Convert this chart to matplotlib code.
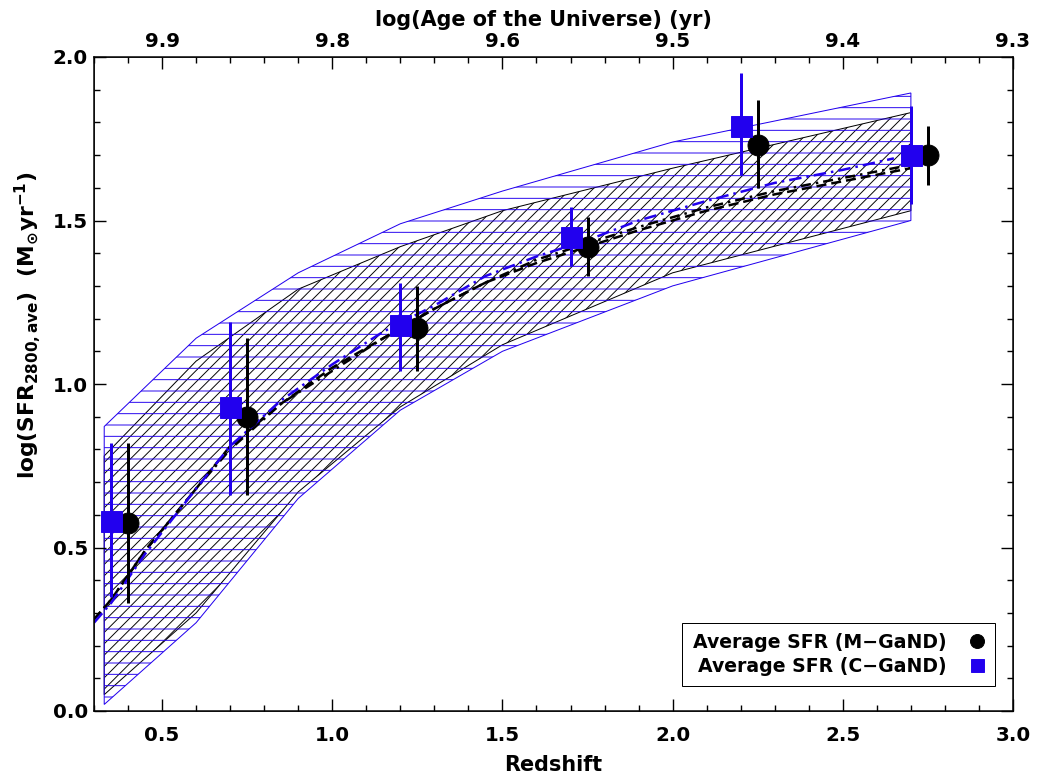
import matplotlib
matplotlib.use("Agg")
import matplotlib.pyplot as plt
from matplotlib.lines import Line2D
from matplotlib.ticker import MultipleLocator, FixedLocator
import numpy as np

# ---------------- data ----------------
z_mgand = [0.40, 0.75, 1.25, 1.75, 2.25, 2.75]
sfr_mgand = [0.575, 0.90, 1.17, 1.42, 1.73, 1.70]
sfr_mgand_lo = [0.33, 0.66, 1.04, 1.33, 1.60, 1.61]
sfr_mgand_hi = [0.82, 1.14, 1.30, 1.51, 1.87, 1.79]

z_cgand = [0.35, 0.70, 1.20, 1.70, 2.20, 2.70]
sfr_cgand = [0.58, 0.93, 1.18, 1.45, 1.79, 1.70]
sfr_cgand_lo = [0.35, 0.66, 1.04, 1.36, 1.64, 1.55]
sfr_cgand_hi = [0.82, 1.19, 1.31, 1.54, 1.95, 1.85]

# shaded (hatched) bands
band_z = [0.33, 0.60, 0.90, 1.20, 1.50, 2.00, 2.70]
blue_band_lo = [0.02, 0.27, 0.65, 0.92, 1.10, 1.30, 1.50]
blue_band_hi = [0.87, 1.14, 1.34, 1.49, 1.59, 1.74, 1.89]
black_band_lo = [0.05, 0.30, 0.67, 0.93, 1.12, 1.34, 1.53]
black_band_hi = [0.78, 1.07, 1.29, 1.42, 1.53, 1.66, 1.83]

# model curves
model_z = [0.30, 0.35, 0.45, 0.60, 0.70, 0.85, 1.00, 1.15, 1.30, 1.45, 1.60,
           1.75, 1.90, 2.10, 2.30, 2.50, 2.70]
model_black_dash = [0.28, 0.34, 0.49, 0.68, 0.81, 0.94, 1.05, 1.14, 1.23, 1.31,
                    1.37, 1.42, 1.47, 1.53, 1.58, 1.62, 1.66]
model_black_dashdot = [0.28, 0.34, 0.49, 0.68, 0.80, 0.94, 1.04, 1.14, 1.23, 1.31,
                       1.38, 1.43, 1.48, 1.54, 1.59, 1.63, 1.67]
model_blue_z = [0.30, 0.35, 0.45, 0.60, 0.70, 0.85, 1.00, 1.15, 1.30, 1.45, 1.60,
                1.75, 1.90, 2.10, 2.30, 2.50, 2.65]
model_blue = [0.27, 0.33, 0.48, 0.68, 0.81, 0.95, 1.06, 1.16, 1.24, 1.33,
              1.39, 1.44, 1.50, 1.56, 1.615, 1.655, 1.69]

bottom_ticks = [0.5, 1.0, 1.5, 2.0, 2.5, 3.0]
bottom_labels = ["0.5", "1.0", "1.5", "2.0", "2.5", "3.0"]
top_labels = ["9.9", "9.8", "9.6", "9.5", "9.4", "9.3"]
y_ticks = [0.0, 0.5, 1.0, 1.5, 2.0]
y_labels = ["0.0", "0.5", "1.0", "1.5", "2.0"]

legend_labels = ["Average SFR (M\u2212GaND)", "Average SFR (C\u2212GaND)"]

# ---------------- style ----------------
DPI = 68
BLUE = "#2200ee"
plt.rcParams['font.family'] = ['DejaVu Sans']
plt.rcParams['font.weight'] = 'bold'
plt.rcParams['mathtext.default'] = 'bf'
plt.rcParams['hatch.linewidth'] = 1.0

def px(v):
    return v * 72.0 / DPI

fig = plt.figure(figsize=(1040 / DPI, 780 / DPI), dpi=DPI)
ax = fig.add_axes([94 / 1040, 1 - 711 / 780, 919 / 1040, 654 / 780])

# hatched bands
blue_poly_x = list(band_z) + list(band_z[::-1])
blue_poly_y = list(blue_band_lo) + list(blue_band_hi[::-1])
black_poly_x = list(band_z) + list(band_z[::-1])
black_poly_y = list(black_band_lo) + list(black_band_hi[::-1])
ax.fill(black_poly_x, black_poly_y, facecolor='none', edgecolor='black',
        hatch='//', linewidth=px(1.0), zorder=1)
ax.fill(blue_poly_x, blue_poly_y, facecolor='none', edgecolor=BLUE,
        hatch='-', linewidth=px(1.0), zorder=1)

# model curves
ax.plot(model_z, model_black_dash, color='black', ls=(0, (4, 2)), lw=px(2.5), zorder=2)
ax.plot(model_z, model_black_dashdot, color='black', ls=(0, (4, 2, 1, 2)), lw=px(2.5), zorder=2)
ax.plot(model_blue_z, model_blue, color=BLUE, ls=(0, (5, 2, 1, 2)), lw=px(2.5), zorder=2)

# data points
m_err = [np.array(sfr_mgand) - np.array(sfr_mgand_lo), np.array(sfr_mgand_hi) - np.array(sfr_mgand)]
c_err = [np.array(sfr_cgand) - np.array(sfr_cgand_lo), np.array(sfr_cgand_hi) - np.array(sfr_cgand)]
ax.errorbar(z_mgand, sfr_mgand, yerr=m_err, fmt='o', color='black', ms=px(21),
            elinewidth=px(3), capsize=0, zorder=4)
ax.errorbar(z_cgand, sfr_cgand, yerr=c_err, fmt='s', color=BLUE, ms=px(21),
            elinewidth=px(3), capsize=0, zorder=5)

# axes
ax.set_xlim(0.3, 3.0)
ax.set_ylim(0.0, 2.0)
ax.xaxis.set_major_locator(FixedLocator(bottom_ticks))
ax.set_xticklabels(bottom_labels)
ax.xaxis.set_minor_locator(MultipleLocator(0.1))
ax.yaxis.set_major_locator(FixedLocator(y_ticks))
ax.set_yticklabels(y_labels)
ax.yaxis.set_minor_locator(MultipleLocator(0.1))
ax.tick_params(which='both', direction='in', right=True, top=False, width=px(1.4),
               labelsize=21)
ax.tick_params(which='major', length=px(12))
ax.tick_params(which='minor', length=px(6))
ax.tick_params(axis='x', pad=px(15))
ax.tick_params(axis='y', pad=px(6))
for s in ax.spines.values():
    s.set_linewidth(px(1.5))

ax2 = ax.twiny()
ax2.set_xlim(ax.get_xlim())
ax2.xaxis.set_major_locator(FixedLocator(bottom_ticks))
ax2.set_xticklabels(top_labels)
ax2.xaxis.set_minor_locator(MultipleLocator(0.1))
ax2.tick_params(which='both', direction='in', width=px(1.4), labelsize=21, pad=px(6))
ax2.tick_params(which='major', length=px(12))
ax2.tick_params(which='minor', length=px(6))
ax2.set_xlabel("log(Age of the Universe) (yr)", fontsize=22, fontweight='bold')
ax2.xaxis.set_label_coords(0.4886, 1.048)

ax.set_xlabel("Redshift", fontsize=22, fontweight='bold')
ax.xaxis.set_label_coords(0.5, -0.068)
ax.set_ylabel(r"log(SFR$_{\mathbf{2800,ave}}$)  (M$_{\odot}$yr$^{\mathbf{-1}}$)",
              fontsize=23, fontweight='bold')
ax.yaxis.set_label_coords(-0.055, 0.59)

handles = [Line2D([], [], marker='o', color='black', ls='none', ms=px(14)),
           Line2D([], [], marker='s', color=BLUE, ls='none', ms=px(13))]
leg = ax.legend(handles, legend_labels, loc='lower right', bbox_to_anchor=(0.98, 0.038),
                borderaxespad=0, markerfirst=False, fancybox=False, framealpha=1,
                edgecolor='black', fontsize=20, handlelength=0.8, handletextpad=1.2,
                labelspacing=0.25, borderpad=0.55)
leg.get_frame().set_linewidth(px(1.0))
for t in leg.get_texts():
    t.set_ha('right')

fig.savefig("out.png", dpi=DPI)
